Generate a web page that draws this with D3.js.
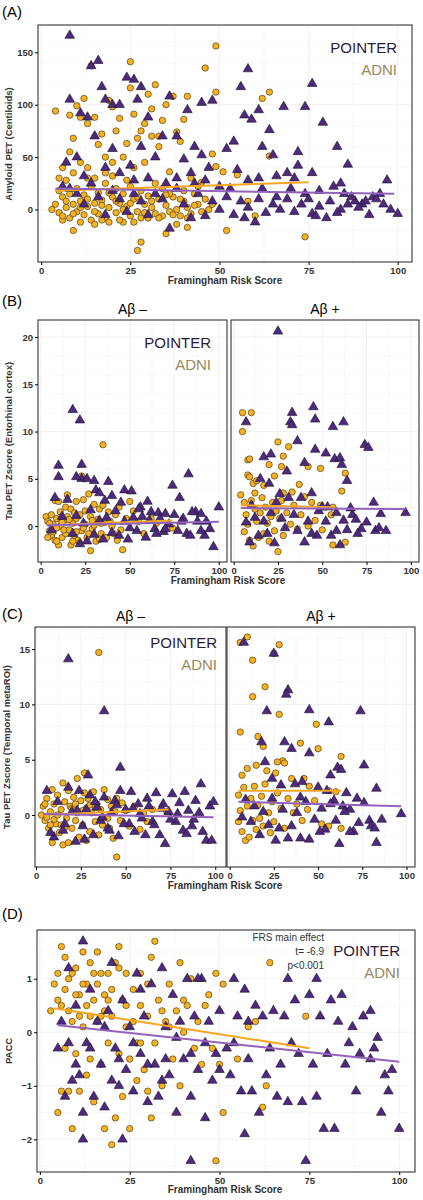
<!DOCTYPE html>
<html><head><meta charset="utf-8">
<script src="https://cdn.jsdelivr.net/npm/d3@7"></script>
<style>body{margin:0;background:#fff}text{font-family:"Liberation Sans",Arial,sans-serif}</style>
</head><body>
<script>
// point lists "x y, x y" (FRS, outcome)
const aAdni = "4 94,8 90,9 68,10 99,11 88,12 106,13 82,14 137,15 88,16 62,17 72,18 50,19 104,20 98,21 75,22 87,24 63,25 141,25 116,26 91,27 68,28 75,29 82,30 110,31 96,32 119,33 60,34 85,35 100,37 108,38 74,40 86,41 108,46 135,49 156,49 112,48 53,62 106,64 112,64 51,74 -26,27 -39,28 -31,35 -23,52 -20,9 -20,6 -10,5 30,6 40,8 55,11 45,13 40,15 30,18 35,20 45,23 50,26 40,29 45,31 70,33 70,36 36,39 65,42 30,45 26,49 41,51 36,55 33,58 8,60 -6,41 -17,38 -14,3 0,4 5,5 -3,6 12,7 2,8 -8,8 15,9 5,10 -2,10 20,11 8,12 -5,12 14,13 3,14 -10,14 22,15 6,16 -4,16 16,17 9,18 -8,18 25,19 2,20 12,21 -3,21 20,22 6,23 -12,23 15,24 3,25 -6,25 22,26 10,27 -2,28 18,29 5,30 -8,30 13,31 2,32 -4,33 10,34 -6,34 20,35 4,36 -2,37 12,38 0,39 -6,40 8,41 2,42 -4,43 15,44 5,45 -2,46 10,47 0,48 5,7 28,9 35,11 -12,13 30,15 -14,17 -10,19 -12,20 32,22 -10,24 28,26 -12,28 -8,32 25,36 15,40 18,44 22,5 18,6 -6,7 8,9 -4,11 2,13 10,15 -2,17 4,19 16,21 8,23 0,25 6,27 12,29 -3,31 8,33 -8,35 14,37 -5,39 10,41 -8,43 4";
const aPointer = "8 166,16 142,14 137,24 126,26 124,58 134,76 120,56 117,17 117,28 117,8 105,18 105,27 105,36 108,45 102,48 104,61 95,41 95,68 98,74 98,79 83,57 90,59 86,64 76,83 60,86 43,76 35,72 55,65 52,54 65,52 58,62 60,11 92,13 88,20 100,22 100,30 88,34 70,38 70,40 48,43 60,45 52,32 50,28 60,25 42,20 58,15 70,10 50,7 45,12 32,18 40,22 35,26 28,30 30,35 25,38 30,42 35,46 28,50 22,55 38,58 28,61 30,66 32,69 35,72 42,70 20,74 15,78 18,82 22,85 15,88 8,90 5,93 12,95 15,97 28,98 0,100 -4,96 5,92 -5,89 2,86 5,84 0,81 8,80 -8,78 3,76 -4,73 5,71 -2,69 10,67 0,65 5,63 -3,61 10,60 -12,58 2,56 8,54 -5,52 12,50 0,48 8,46 -6,44 15,42 -8,40 5,38 20,36 -18,34 10,32 15,30 -5,28 8,26 15,24 -2,22 10,20 18,18 -5,16 12,14 25,12 5,10 15,8 20,6 22,62 20,66 12,75 10,84 25,91 8,57 -8,53 20,47 40,43 25,87 12,94 10,77 -6,83 -3,71 30";
const bAdniNeg = "3 1,4 0.5,5 -0.5,6 1.2,6 -1,7 0.2,8 2.7,8 -1.5,9 0.8,10 2.6,10 -2,11 0,11 1.5,12 -1.2,13 0.6,14 2,14 -0.8,15 1,15 3.3,16 -0.4,17 -2,17 1.8,18 0.3,19 -1,20 2.6,20 0.8,21 -1.5,22 1.2,23 5.3,23 -0.5,24 2.8,25 0.2,26 -1.2,27 3.4,28 -2.6,28 1,29 -0.3,30 2.3,31 -1.6,32 0.7,33 1.8,34 -0.8,35 8.6,35 2.2,36 0.4,37 -1.2,38 1.5,40 0,41 -0.8,42 1.2,44 2,45 -0.4,46 -2.5,48 0.8,50 2.6,52 1.6,55 0.5,58 -0.8,62 0.8,65 0.3,74 -0.2,7 -0.6,9 -1.6,12 0.4,16 0.7,19 1.4,22 -1.8,25 1.6,27 -0.8,30 0.1,33 -1.4,39 0.5,43 -1.5,5 0.3,9 -0.2,13 -0.4,18 -1.6,24 -0.2,29 0.6,34 0.3,4 -1.2,20 -0.6";
const bPointerNeg = "10 6.4,10 5.2,18 12.3,22 11.2,23 6.5,23 5,20 5.2,26 5,30 4.8,31 3.8,33 3.5,38 4.7,40 3.2,47 3.8,51 3.7,56 2,62 1.5,66 1.4,70 1.3,74 4.3,78 3,83 5.5,87 1.5,90 1.3,93 0.5,97 -2.2,100 2,95 -0.3,92 -1,88 0.5,85 1.5,82 -0.8,80 0.8,77 -0.5,75 1.2,72 0.2,69 -0.6,67 0.8,64 -0.3,61 0.6,59 -1.2,57 1,54 -0.5,52 0.9,49 -1.4,47 0.5,44 -1,42 1.6,40 -0.7,37 0.9,35 -1.4,33 0.6,30 -0.9,28 1.7,26 -1.6,24 0.3,22 -1.9,20 1.1,18 -0.8,15 2.8,12 1,8 3,6 -0.4,45 2.5,50 -0.2,55 1.8,60 2.6,65 -0.8,70 -0.3,79 0.5,84 -1,90 -0.5,36 2.7";
const bAdniPos = "5 12,10 12,5 10,8 7,9 7.1,25 8.9,31 8.4,28 7.4,20 6.5,27 6.3,42 6.3,49 6.1,63 5.6,61 3.7,8 5.4,9 5.2,11 4.5,13 4.8,17 4.3,23 5.3,28 3.5,33 3.6,37 4.4,40 3.1,44 2.5,49 2.2,56 2,4 3.3,6 2.5,7 1.2,8 0.2,9 -1.5,10 2.7,11 -2.1,12 1.8,13 0.5,14 -1.2,15 1.4,16 3,17 -0.8,18 2,19 0.3,20 -1.6,21 1,22 2.5,23 -0.5,24 1.6,25 -2.7,26 0.8,27 2.7,28 -1,30 1.4,32 0.2,34 2.2,36 -0.3,38 1.2,42 0,46 0.6,50 -0.4,55 1.2,56 -2,63 -1.7,6 -0.6,12 3.5";
const bPointerPos = "25 20.6,33 12,32 11,33 10.7,45 12.6,46 11.3,56 10.5,62 11,7 11,36 9,46 8.1,52 7.7,57 7.1,60 7.2,61 6.5,74 8.6,76 8.3,64 4.8,21 7.6,30 5.8,40 6.7,17 7.3,15 5,20 4.5,26 3.4,31 3,38 3,44 3.5,48 1.6,52 0.5,55 -1,58 1.4,60 -2,62 0.6,64 -0.4,67 1.2,69 0.7,72 -0.3,75 0.4,79 2.5,80 -0.5,83 1.3,82 -0.2,86 -0.5,97 1.4,70 -0.8,66 1.9,50 2,47 -1,42 0.5,40 -1.7,36 -0.5,34 1.2,29 -0.2,27 0.8,23 -1.8,21 1.4,19 -0.8,17 0.5,14 -1,12 0.9,9 -1.7,7 0.4,10 2.2,24 2.5,44 -0.8,53 2,58 -0.5";
const cAdniNeg = "35 14.7,27 3.8,23 3.3,15 2.9,45 -3.8,3 0,4 0.8,5 -0.5,6 1.5,7 -1.2,8 0.3,9 2.3,9 -2.5,10 1,11 -0.8,12 1.8,13 -1.6,14 0.5,15 -2.7,16 1.2,17 -0.3,18 2.2,18 -2.5,19 0.8,20 -1.2,21 1.6,22 -0.5,23 0.2,24 -2,25 1.3,26 -0.9,27 2,28 -2.3,28 0.6,29 1.5,30 -1.5,31 0.2,32 2.1,33 -0.6,34 1,35 -1.8,36 0.5,37 -0.9,38 2.3,39 -0.2,40 1.4,41 -1.2,42 0.8,43 -2.1,44 0.3,45 1.5,47 -0.5,48 1.1,50 0.4,52 -1,55 0.8,58 -1.3,60 0.2,62 -0.6,65 0.5,73 0.3,6 -0.2,10 -0.4,14 -0.9,20 0.6,26 0.4,33 0.7,40 -0.3,5 1,8 -0.9,12 0,16 -1.1,22 1,30 0.9,36 -0.4";
const cPointerNeg = "18 14.1,38 9.4,47 4.3,29 3.6,6 2.2,10 -2,12 1.2,15 -1.4,18 2.5,20 0.3,22 -2.4,24 2.2,26 -1,28 0.5,30 1.8,32 -1.8,34 0.7,36 -0.5,38 1.6,40 -1.2,42 0.2,44 1.3,46 -1.9,47 2.2,50 0.5,52 -0.8,53 2.1,55 -1.5,57 1,59 -0.3,61 -1.8,63 0.8,65 -0.6,67 2,69 -1.8,71 1,72 -2.6,74 0.3,76 1.9,78 -0.6,80 1.1,82 -1.4,83 2.1,85 0.4,87 -1,89 1.3,92 2.8,93 -1.5,95 -2.3,97 0.8,98 -2.3,99 1.2,91 0.2,88 -0.4,84 -1.7,79 0.1,75 -0.4,70 0.6,66 -0.9,62 1.5,58 0.1,54 0.6,49 -0.8,45 0.9,41 -1.4,37 -0.2,33 1.2,27 -2.2,23 0.4,16 -0.8,8 -1.6";
const cAdniPos = "6 15.6,10 16.1,28 15.4,25 14.6,13 14,13 10.7,20 11.6,28 9.1,6 7.5,16 7.1,19 6.2,40 6.5,49 8.2,50 6,63 5.3,30 4.9,31 4.7,27 4.8,15 4.5,10 4.2,7 3.6,21 4,26 3.8,35 3.3,42 3.3,45 2.6,56 2.2,60 2.1,5 1.8,6 0.4,7 -1.5,8 2.5,9 -2.3,10 0.8,11 -2,12 1.5,13 -0.5,14 2.6,15 -1.3,16 0.9,17 -0.3,18 1.7,19 -1,20 2.8,22 0.2,23 -1.6,24 1.2,25 -0.6,27 2,29 0.6,31 -1.2,33 1.5,36 0.2,38 1,41 -0.5,44 0.5,48 1.3,52 -0.8,56 -1,63 -1.2,5 -0.6";
const cPointerPos = "8 15.6,25 14.6,33 11.3,32 10.9,21 9.4,45 9.5,74 9.4,56 8.4,18 6.6,31 6.6,35 6,45 5.6,57 3.6,61 4.3,63 4.1,76 4.5,20 4.8,24 3.3,29 2.7,37 2.8,41 3,50 2.5,55 2.2,59 1.3,62 -2.6,66 2,68 0.5,70 -1.5,72 1.5,73 -0.7,76 1.1,79 -0.5,80 -1,82 -1.2,83 2.4,83 -2.5,86 -0.4,97 0.1,68 -1.5,64 0.8,60 -0.5,57 1,54 -1.3,52 0.6,48 -0.4,45 -2.2,43 1.2,40 -2.1,38 0.2,35 -1,33 -2.1,30 0.5,28 -1.2,26 -2.3,24 1.5,22 -0.9,19 0.3,17 -1.8,14 0.8,12 -0.6,9 1.4,7 -0.2,40 1.6,51 -1.5,65 0.3";
const dAdni = "3 0.4,4 0.9,5 1.1,5 -1.5,6 1.6,6 -1.1,6 0.5,7 1.4,7 -0.3,8 1,8 -1.1,9 0.2,9 -1.8,10 1.2,10 -0.4,11 0.7,11 -1.1,12 1.5,12 0.1,13 -0.8,13 0.9,14 1.3,14 -0.5,15 0.6,15 -1.3,16 1.5,16 0.2,17 -0.6,17 1.1,18 -1.8,18 0.4,19 1.1,19 -0.2,20 -2.1,20 0.8,21 -1.6,21 1.3,22 1.6,22 -0.4,23 0.6,23 -1.2,24 1.1,24 0.1,25 -1.8,25 -0.5,26 0.8,27 -0.2,28 0.5,28 1.1,29 -0.7,30 0.3,31 1.4,31 -1.6,32 1.7,32 -0.2,33 0.6,34 -1,35 0.2,36 0.9,37 -0.5,38 0.4,39 1.3,39 -1,40 0,41 0.5,42 1,43 -0.3,44 0.2,45 -0.6,46 0.5,47 0.7,48 -0.3,49 1.1,49 -2.4,50 -0.6,51 0.9,51 -1.5,55 -0.5,58 0.1,60 0.2,62 -1.4,63 -1,64 1.3,74 0.3,30 -1.1,27 -0.9,5 0.6,8 0.4,10 0.7,12 0.9,14 0.3,16 0.9,18 0.7,20 0.3,22 1.2,24 0.5,26 0.2,28 -0.2,30 0.9,34 0.4,36 0.1,40 0.6,7 0.8,9 1.1,11 0.3,13 0.5,15 1.1,17 0.3,19 0.6";
const dPointer = "12 1.7,12 -1.5,12 -2,23 -2,42 -2.4,74 -2.4,8 1.2,10 0.5,11 -0.8,13 -0.2,14 0.8,15 -1.2,16 0.2,17 -0.6,18 -1.4,19 0.4,20 1.3,21 -0.3,22 -1,23 0.6,24 -0.7,25 0.1,26 -1.1,27 1.1,28 -0.4,29 0.3,30 -1.3,31 0.9,32 -0.6,33 -1.2,34 1.2,35 0.1,36 -0.8,37 0.7,38 -1.5,39 0.2,40 -0.5,41 1,42 -1.2,43 0.3,44 -0.7,45 1,46 -1.6,47 0.2,48 -0.9,49 -0.4,50 0.4,52 -0.3,53 -0.8,54 1,55 0.3,56 -1.1,57 0.8,57 -1.9,58 -0.5,59 -1.1,60 0.5,61 -1.5,62 0.3,63 -0.8,64 -0.3,65 0.4,66 -1.2,67 -0.6,68 0.3,69 1,69 -1.3,70 -0.2,71 0.6,72 -0.4,73 -1.3,75 0.7,76 -0.6,77 1,77 -1.2,78 0.3,79 -1.8,80 -0.4,81 0.6,82 -1.8,83 0.2,84 0.7,85 -0.6,86 -0.2,87 0.1,88 -1.1,89 -0.4,90 0.3,92 -0.5,92 0.4,93 -0.3,94 -0.1,95 -1.5,96 -0.8,97 -1.1,98 -0.7,100 -1.8,7 -1.2,6 0.2,5 -0.3,9 -0.9,44 1,35 -0.5,20 -0.9,28 0.8,8 -0.2,10 -0.6,14 -0.3,18 0.1,22 -0.5,26 -0.2,30 -0.6,34 -0.9,38 -0.1,42 -0.4,46 -0.2,50 -0.7,54 -0.2,58 0.2";

// fitted lines [x0, y0, x1, y1]
const fits = {
  a: {adni: [4, 18, 75, 26], pointer: [4, 20, 99, 15]},
  bNeg: {adni: [4, 0.1, 74, 0.6], pointer: [4, 0.1, 100, 0.45]},
  bPos: {adni: [4, 2.2, 57, 2.0], pointer: [4, 1.9, 97, 1.8]},
  cNeg: {adni: [4, 0, 74, 0.5], pointer: [4, 0.1, 99, -0.2]},
  cPos: {adni: [5, 2.2, 63, 2.2], pointer: [5, 1.2, 97, 0.8]},
  d: {adni: [4, 0.45, 75, -0.3], pointer: [5, 0.13, 100, -0.55]}
};
const xTicks = [0, 25, 50, 75, 100];

const parse = s => s.split(",").map(p => p.trim().split(" ").map(Number));

const svg = d3.select("body").append("svg").attr("width", 423).attr("height", 1200);

function panel(o) {
  const x = d3.scaleLinear().domain(o.xd).range([o.l, o.r]);
  const y = d3.scaleLinear().domain(o.yd).range([o.b, o.t]);
  const g = svg.append("g");
  // grid
  const xm = d3.range(0, 101, 12.5), ym = y.ticks(o.yt.length * 2);
  g.selectAll(".gx").data(xm).enter().append("line")
    .attr("x1", d => x(d)).attr("x2", d => x(d)).attr("y1", o.t).attr("y2", o.b)
    .attr("stroke", d => d % 25 ? "#f4f4f4" : "#e8e8e8").attr("stroke-width", 0.6);
  g.selectAll(".gy").data(ym.filter(d => d >= o.yd[0] && d <= o.yd[1])).enter().append("line")
    .attr("y1", d => y(d)).attr("y2", d => y(d)).attr("x1", o.l).attr("x2", o.r)
    .attr("stroke", d => o.yt.includes(d) ? "#e8e8e8" : "#f4f4f4").attr("stroke-width", 0.6);
  // points
  g.selectAll(".c").data(parse(o.adni)).enter().append("circle")
    .attr("cx", d => x(d[0])).attr("cy", d => y(d[1])).attr("r", 3.2)
    .attr("fill", "#f5b21f").attr("stroke", "#3a2a10").attr("stroke-width", 0.6);
  const tri = d3.symbol().type(d3.symbolTriangle).size(40);
  g.selectAll(".t").data(parse(o.pointer)).enter().append("path")
    .attr("d", tri).attr("transform", d => `translate(${x(d[0])},${y(d[1])})`)
    .attr("fill", "#4d2a7c").attr("stroke", "#1a0d2b").attr("stroke-width", 0.6);
  // fit lines
  [["adni", "#f5a623"], ["pointer", "#9461bd"]].forEach(([k, c]) => {
    const f = o.fit[k];
    g.append("line").attr("x1", x(f[0])).attr("y1", y(f[1])).attr("x2", x(f[2])).attr("y2", y(f[3]))
      .attr("stroke", c).attr("stroke-width", 2);
  });
  // frame
  g.append("rect").attr("x", o.l).attr("y", o.t).attr("width", o.r - o.l).attr("height", o.b - o.t)
    .attr("fill", "none").attr("stroke", "#222").attr("stroke-width", 1);
  // axes
  const ax = g.append("g").attr("transform", `translate(0,${o.b})`)
    .call(d3.axisBottom(x).tickValues(xTicks).tickSize(3).tickPadding(2));
  ax.select(".domain").remove();
  ax.selectAll("text").attr("font-size", 9.5).attr("font-weight", "bold").attr("fill", "#333");
  if (o.yaxis) {
    const ay = g.append("g").attr("transform", `translate(${o.l},0)`)
      .call(d3.axisLeft(y).tickValues(o.yt).tickSize(3).tickPadding(2).tickFormat(d => d < 0 ? "\u2212" + (-d) : d));
    ay.select(".domain").remove();
    ay.selectAll("text").attr("font-size", 9.5).attr("font-weight", "bold").attr("fill", "#333");
  }
  if (o.strip) svg.append("text").attr("x", (o.l + o.r) / 2).attr("y", o.t - 6).attr("text-anchor", "middle")
    .attr("font-size", 14).attr("font-family", "Lato, sans-serif").text(o.strip);
  if (o.leg) {
    svg.append("text").attr("x", o.leg[0]).attr("y", o.leg[1]).attr("text-anchor", "end")
      .attr("font-size", 15).attr("font-family", "Lato, sans-serif").attr("fill", "#2a1a3c").text("POINTER");
    svg.append("text").attr("x", o.leg[0]).attr("y", o.leg[1] + 22).attr("text-anchor", "end")
      .attr("font-size", 15).attr("font-family", "Lato, sans-serif").attr("fill", "#9a8860").text("ADNI");
  }
}

function label(txt, y) {
  svg.append("text").attr("x", 2).attr("y", y).attr("font-size", 15).attr("font-family", "Lato, sans-serif").text(txt);
}
function xTitle(x, y) {
  svg.append("text").attr("x", x).attr("y", y).attr("text-anchor", "middle").attr("font-size", 10)
    .attr("font-weight", "bold").attr("fill", "#333").text("Framingham Risk Score");
}
function yTitle(txt, x, y) {
  svg.append("text").attr("transform", `translate(${x},${y}) rotate(-90)`).attr("text-anchor", "middle")
    .attr("font-size", 9.5).attr("font-weight", "bold").attr("fill", "#333").text(txt);
}

// (A)
label("(A)", 17);
panel({l: 38, r: 412, t: 25, b: 262, xd: [-0.9, 104], yd: [-50, 176], yt: [0, 50, 100, 150],
  adni: aAdni, pointer: aPointer, fit: fits.a, yaxis: true, leg: [397, 53]});
xTitle(225, 284); yTitle("Amyloid PET (Centiloids)", 12, 144);

// (B)
label("(B)", 306);
panel({l: 38, r: 227, t: 320, b: 562, xd: [-1.5, 104.6], yd: [-3.8, 21.8], yt: [0, 5, 10, 15, 20],
  adni: bAdniNeg, pointer: bPointerNeg, fit: fits.bNeg, yaxis: true, strip: "A\u03b2 \u2013", leg: [211, 348]});
panel({l: 231, r: 419, t: 320, b: 562, xd: [-1.5, 104.6], yd: [-3.8, 21.8], yt: [0, 5, 10, 15, 20],
  adni: bAdniPos, pointer: bPointerPos, fit: fits.bPos, strip: "A\u03b2 +"});
xTitle(228, 584); yTitle("Tau PET Zscore (Entorhinal cortex)", 12, 441);

// (C)
label("(C)", 619);
panel({l: 35, r: 226, t: 627, b: 867, xd: [-0.6, 106], yd: [-4.7, 17], yt: [0, 5, 10, 15],
  adni: cAdniNeg, pointer: cPointerNeg, fit: fits.cNeg, yaxis: true, strip: "A\u03b2 \u2013", leg: [217, 648]});
panel({l: 227, r: 415, t: 627, b: 867, xd: [-1.5, 104.8], yd: [-4.7, 17], yt: [0, 5, 10, 15],
  adni: cAdniPos, pointer: cPointerPos, fit: fits.cPos, strip: "A\u03b2 +"});
xTitle(225, 889); yTitle("Tau PET Zscore (Temporal metaROI)", 10, 747);

// (D)
label("(D)", 919);
panel({l: 37, r: 415, t: 930, b: 1172, xd: [-0.8, 104.4], yd: [-2.61, 1.91], yt: [-2, -1, 0, 1],
  adni: dAdni, pointer: dPointer, fit: fits.d, yaxis: true, leg: [400, 956]});
xTitle(225, 1193); yTitle("PACC", 12, 1051);
["FRS main effect", "t= -6.9", "p<0.001"].forEach((t, i) =>
  svg.append("text").attr("x", 324).attr("y", 941 + i * 14).attr("text-anchor", "end")
    .attr("font-size", 10).attr("font-family", "Lato, sans-serif").attr("fill", "#333").text(t));
</script>
</body></html>
